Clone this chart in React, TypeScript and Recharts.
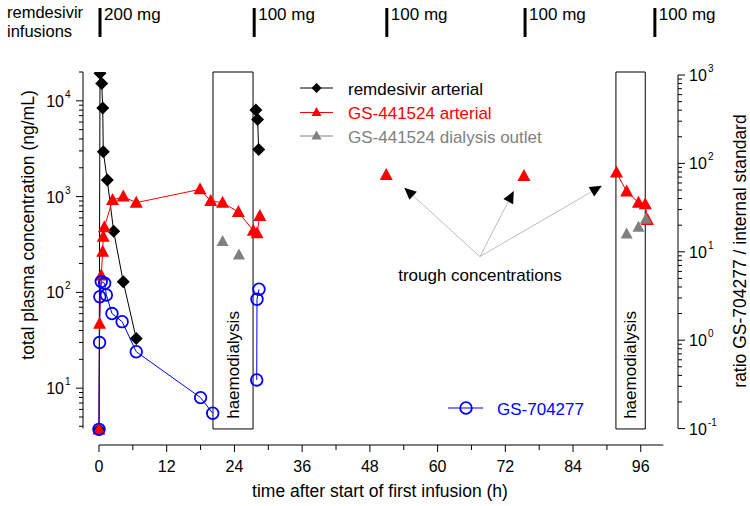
import React from "react";
import {
  LineChart,
  Line,
  XAxis,
  YAxis,
  ReferenceLine,
  ReferenceArea,
  ReferenceDot,
  Legend,
} from "recharts";

const FONT = "Arial, 'Liberation Sans', Helvetica, sans-serif";
const FS = 17;

// ---- data (time in h, concentrations in ng/mL; null = break in line) ----
const remdesivirTimes = [0, 0.18, 0.48, 0.66, 0.76, 1.47, 2.6, 4.3, 6.6, 17, 27.8, 28.1, 28.3];
const remdesivirValues = [3.7, 19400, 15200, 8400, 2940, 1490, 435, 129, 33, null, 8000, 6400, 3100];

const gs441524Times = [0, 0.1, 0.4, 0.65, 0.75, 0.95, 2.4, 4.3, 6.6, 17.9, 19.8, 21.9, 24.7, 27.35, 28.0, 28.5, 40, 50.9, 63, 75.3, 85, 91.7, 93.5, 95.6, 96.8, 97.2];
const gs441524Values = [3.7, 47, 150, 265, 380, 480, 920, 1000, 865, 1190, 900, 865, 690, 440, 414, 628, null, 1680, null, 1640, null, 1780, 1130, 865, 830, 570];

const dialysisOutletTimes = [21.9, 24.8, 60, 93.5, 95.6, 96.9];
const dialysisOutletValues = [339, 246, null, 407, 478, 580];

// GS-704277 ratio to internal standard (right axis)
const gs704277Times = [0, 0.1, 0.15, 0.4, 1.0, 1.3, 2.3, 4.1, 6.6, 18.0, 20.15, 24, 27.95, 28.0, 28.35];
const gs704277Values = [0.098, 0.94, 3.1, 4.6, 4.4, 3.25, 2.0, 1.62, 0.74, 0.224, 0.149, null, 0.355, 2.9, 3.77];

// haemodialysis periods (h)
const dialysisStarts = [20.2, 91.6];
const dialysisEnds = [27.3, 96.8];

// remdesivir infusions
const infusionTimes = [0.18, 27.5, 51.0, 75.5, 98.5];
const infusionDoses = ["200 mg", "100 mg", "100 mg", "100 mg", "100 mg"];

// trough annotation arrows
const troughTipTimes = [54.1, 73.5, 89.1];
const troughTipValues = [1240, 1146, 1300];
const troughOrigin = { t: 67.5, v: 236 };
const troughLabel = { t: 67.5, v: 152, text: "trough concentrations" };

// axes
const xDomain: [number, number] = [-2.835, 102.6];
const xTicks = [0, 6, 12, 18, 24, 30, 36, 42, 48, 54, 60, 66, 72, 78, 84, 90, 96];
const leftDomain: [number, number] = [2.55, 20000];
const leftTicks = [4, 5, 6, 7, 8, 9, 10, 20, 30, 40, 50, 60, 70, 80, 90, 100, 200, 300, 400, 500, 600, 700, 800, 900, 1000, 2000, 3000, 4000, 5000, 6000, 7000, 8000, 9000, 10000, 20000];
const rightDomain: [number, number] = [0.0652, 1081];
const rightTicks = [0.1, 0.2, 0.3, 0.4, 0.5, 0.6, 0.7, 0.8, 0.9, 1, 2, 3, 4, 5, 6, 7, 8, 9, 10, 20, 30, 40, 50, 60, 70, 80, 90, 100, 200, 300, 400, 500, 600, 700, 800, 900, 1000];

const BLACK = "#000000";
const RED = "#ff0000";
const GRAY = "#808080";
const BLUE = "#0000ff";

const toSeries = (ts: number[], vs: (number | null)[]) => ts.map((t, i) => ({ t, v: vs[i] }));

const remdesivirData = toSeries(remdesivirTimes, remdesivirValues);
const gs441524Data = toSeries(gs441524Times, gs441524Values);
const outletData = toSeries(dialysisOutletTimes, dialysisOutletValues);
const gs704277Data = toSeries(gs704277Times, gs704277Values);

const isPow10 = (v: number) => Math.abs(Math.log10(v) - Math.round(Math.log10(v))) < 1e-9;

// ---- markers ----
const ok = (p: any) => p && p.cx != null && p.cy != null && p.value != null && !Number.isNaN(p.cy);

const Diamond = (p: any) => {
  if (!ok(p)) return <g key={p.index} />;
  const { cx, cy } = p;
  const h = 6.5;
  return <polygon key={p.index} points={`${cx},${cy - h} ${cx + h},${cy} ${cx},${cy + h} ${cx - h},${cy}`} fill={BLACK} />;
};
const RedTri = (p: any) => {
  if (!ok(p)) return <g key={p.index} />;
  const { cx, cy } = p;
  return <polygon key={p.index} points={`${cx},${cy - 7} ${cx + 6.5},${cy + 5} ${cx - 6.5},${cy + 5}`} fill={RED} />;
};
const GrayTri = (p: any) => {
  if (!ok(p)) return <g key={p.index} />;
  const { cx, cy } = p;
  return <polygon key={p.index} points={`${cx},${cy - 6.5} ${cx + 6},${cy + 4.5} ${cx - 6},${cy + 4.5}`} fill={GRAY} />;
};
const BlueCircle = (p: any) => {
  if (!ok(p)) return <g key={p.index} />;
  return <circle key={p.index} cx={p.cx} cy={p.cy} r={5.8} fill="none" stroke={BLUE} strokeWidth={1.8} />;
};

// ---- ticks ----
const expText = (v: number) => String(Math.round(Math.log10(v)));

const LeftTick = (p: any) => {
  const { x, y, payload } = p;
  const v = payload.value;
  const major = isPow10(v);
  return (
    <g>
      <line x1={x - (major ? 7 : 4)} x2={x} y1={y} y2={y} stroke="#000" strokeWidth={1} />
      {major && (
        <text x={x - 19} y={y + 6} textAnchor="end" fontSize={16} fontFamily={FONT} fill="#000">10</text>
      )}
      {major && (
        <text x={x - 18} y={y - 3} fontSize={10} fontFamily={FONT} fill="#000">{expText(v)}</text>
      )}
    </g>
  );
};

const RightTick = (p: any) => {
  const { x, y, payload } = p;
  const v = payload.value;
  const major = isPow10(v);
  return (
    <g>
      <line x1={x} x2={x + (major ? 7 : 4)} y1={y} y2={y} stroke="#000" strokeWidth={1} />
      {major && (
        <text x={x + 11} y={y + 6} fontSize={16} fontFamily={FONT} fill="#000">10</text>
      )}
      {major && (
        <text x={x + 30} y={y - 3} fontSize={10} fontFamily={FONT} fill="#000">{expText(v)}</text>
      )}
    </g>
  );
};

const BottomTick = (p: any) => {
  const { x, y, payload } = p;
  const v = payload.value;
  const major = v % 12 === 0;
  return (
    <g>
      <line x1={x} x2={x} y1={y} y2={y + (major ? 7 : 5)} stroke="#000" strokeWidth={1} />
      {major && (
        <text x={x} y={y + 27} textAnchor="middle" fontSize={16} fontFamily={FONT} fill="#000">{v}</text>
      )}
    </g>
  );
};

// ---- annotation shapes ----
const Arrow = (p: any) => {
  const { x1, y1, x2, y2 } = p;
  const ang = Math.atan2(y2 - y1, x2 - x1);
  const L = 12;
  const Wd = 5.5;
  const bx = x2 - L * Math.cos(ang);
  const by = y2 - L * Math.sin(ang);
  const px = -Math.sin(ang) * Wd;
  const py = Math.cos(ang) * Wd;
  return (
    <g>
      <line x1={x1} y1={y1} x2={bx} y2={by} stroke="#bdbdbd" strokeWidth={1} />
      <polygon points={`${x2},${y2} ${bx + px},${by + py} ${bx - px},${by - py}`} fill="#000" />
    </g>
  );
};

const makeInfusion = (dose: string) => (p: any) => {
  const { x1, y1, x2, y2 } = p;
  const top = Math.min(y1, y2);
  return (
    <g>
      <line x1={x1} y1={y1} x2={x2} y2={y2} stroke="#000" strokeWidth={3} />
      <text x={x1 + 4} y={top + 12} fontSize={FS} fontFamily={FONT} fill="#000">{dose}</text>
    </g>
  );
};

const HaemoLabel = (p: any) => {
  const vb = p.viewBox || {};
  const cx = vb.x + vb.width / 2;
  const cy = vb.y + vb.height - 64;
  return (
    <text
      x={cx}
      y={cy}
      textAnchor="middle"
      dominantBaseline="central"
      transform={`rotate(-90 ${cx} ${cy})`}
      fontSize={FS}
      fontFamily={FONT}
      fill="#000"
    >
      haemodialysis
    </text>
  );
};

const TroughText = (p: any) => (
  <text x={p.cx} y={p.cy + 6} textAnchor="middle" fontSize={FS} fontFamily={FONT} fill="#000">
    {troughLabel.text}
  </text>
);

// ---- legend + free texts ----
const legendRows = [
  { label: "remdesivir arterial", color: BLACK, marker: "diamond", y: 88 },
  { label: "GS-441524 arterial", color: RED, marker: "triangle", y: 112.5 },
  { label: "GS-441524 dialysis outlet", color: GRAY, marker: "triangle", y: 136 },
];

const LegendMarker = ({ kind, x, y, color }: any) => {
  if (kind === "diamond")
    return <polygon points={`${x},${y - 5} ${x + 5},${y} ${x},${y + 5} ${x - 5},${y}`} fill={color} />;
  if (kind === "triangle")
    return <polygon points={`${x},${y - 5.5} ${x + 5},${y + 3.5} ${x - 5},${y + 3.5}`} fill={color} />;
  return <circle cx={x} cy={y} r={5.8} fill="none" stroke={color} strokeWidth={1.8} />;
};

const LegendContent = () => (
  <svg width={750} height={506} style={{ position: "absolute", left: 0, top: 0, overflow: "visible" }}>
    {legendRows.map((r) => (
      <g key={r.label}>
        <line x1={300} x2={333} y1={r.y} y2={r.y} stroke={r.color} strokeWidth={1} />
        <LegendMarker kind={r.marker} x={316.5} y={r.y} color={r.color} />
        <text x={348} y={r.y + 6.5} fontSize={FS} fontFamily={FONT} fill={r.color}>{r.label}</text>
      </g>
    ))}
    <g>
      <line x1={448} x2={483} y1={408} y2={408} stroke={BLUE} strokeWidth={1} />
      <LegendMarker kind="circle" x={466} y={408} color={BLUE} />
      <text x={497} y={414.5} fontSize={FS} fontFamily={FONT} fill={BLUE}>GS-704277</text>
    </g>
    <text x={7} y={18} fontSize={16.5} fontFamily={FONT} fill="#000">remdesivir</text>
    <text x={7} y={37} fontSize={16.5} fontFamily={FONT} fill="#000">infusions</text>
    <text
      x={28}
      y={225}
      textAnchor="middle"
      dominantBaseline="central"
      transform="rotate(-90 28 225)"
      fontSize={17.5}
      fontFamily={FONT}
      fill="#000"
    >
      total plasma concentration (ng/mL)
    </text>
    <text
      x={740}
      y={251}
      textAnchor="middle"
      dominantBaseline="central"
      transform="rotate(-90 740 251)"
      fontSize={17.5}
      fontFamily={FONT}
      fill="#000"
    >
      ratio GS-704277 / internal standard
    </text>
    <text x={380} y={497} textAnchor="middle" fontSize={17.5} fontFamily={FONT} fill="#000">
      time after start of first infusion (h)
    </text>
  </svg>
);

export default function App() {
  return (
    <div style={{ position: "absolute", left: 0, top: 0, width: 750, height: 506, background: "#fff" }}>
      <LineChart width={750} height={506} margin={{ top: 72, right: 0, bottom: 0, left: 0 }}>
        <XAxis
          dataKey="t"
          type="number"
          domain={xDomain}
          allowDataOverflow
          ticks={xTicks}
          interval={0}
          height={61}
          axisLine={false}
          tickLine={false}
          tickSize={0}
          tickMargin={0}
          tick={<BottomTick />}
        />
        <YAxis
          yAxisId="left"
          orientation="left"
          type="number"
          scale="log"
          domain={leftDomain}
          allowDataOverflow
          ticks={leftTicks}
          interval={0}
          width={83}
          axisLine={false}
          tickLine={false}
          tickSize={0}
          tickMargin={0}
          tick={<LeftTick />}
        />
        <YAxis
          yAxisId="right"
          orientation="right"
          type="number"
          scale="log"
          domain={rightDomain}
          allowDataOverflow
          ticks={rightTicks}
          interval={0}
          width={72}
          axisLine={false}
          tickLine={false}
          tickSize={0}
          tickMargin={0}
          tick={<RightTick />}
        />

        {/* axis lines (offset style) */}
        <ReferenceLine
          yAxisId="left"
          segment={[{ x: xDomain[0], y: 3.8 }, { x: xDomain[0], y: leftDomain[1] }]}
          stroke="#000"
          strokeWidth={1}
          ifOverflow="visible"
        />
        <ReferenceLine
          yAxisId="right"
          segment={[{ x: xDomain[1], y: 0.1 }, { x: xDomain[1], y: 1000 }]}
          stroke="#000"
          strokeWidth={1}
          ifOverflow="visible"
        />
        <ReferenceLine
          yAxisId="left"
          segment={[{ x: 0, y: leftDomain[0] }, { x: 100, y: leftDomain[0] }]}
          stroke="#000"
          strokeWidth={1.2}
          ifOverflow="visible"
        />

        {/* haemodialysis boxes */}
        {dialysisStarts.map((s, i) => (
          <ReferenceArea
            key={`hd${i}`}
            yAxisId="left"
            x1={s}
            x2={dialysisEnds[i]}
            y1={3.75}
            y2={leftDomain[1]}
            fill="none"
            fillOpacity={0}
            stroke="#000"
            strokeWidth={1}
            ifOverflow="visible"
            label={HaemoLabel}
          />
        ))}

        {/* infusion markers above plot */}
        {infusionTimes.map((t, i) => (
          <ReferenceLine
            key={`inf${i}`}
            yAxisId="left"
            segment={[{ x: t, y: 46400 }, { x: t, y: 93100 }]}
            ifOverflow="visible"
            shape={makeInfusion(infusionDoses[i])}
          />
        ))}

        {/* trough arrows */}
        {troughTipTimes.map((t, i) => (
          <ReferenceLine
            key={`arr${i}`}
            yAxisId="left"
            segment={[{ x: troughOrigin.t, y: troughOrigin.v }, { x: t, y: troughTipValues[i] }]}
            ifOverflow="visible"
            shape={Arrow}
          />
        ))}
        <ReferenceDot
          yAxisId="left"
          x={troughLabel.t}
          y={troughLabel.v}
          r={0}
          ifOverflow="visible"
          shape={TroughText}
        />

        <Line
          yAxisId="left"
          data={remdesivirData}
          dataKey="v"
          stroke={BLACK}
          strokeWidth={1}
          dot={Diamond}
          activeDot={false}
          isAnimationActive={false}
          connectNulls={false}
        />
        <Line
          yAxisId="left"
          data={gs441524Data}
          dataKey="v"
          stroke={RED}
          strokeWidth={1}
          dot={RedTri}
          activeDot={false}
          isAnimationActive={false}
          connectNulls={false}
        />
        <Line
          yAxisId="left"
          data={outletData}
          dataKey="v"
          stroke="none"
          dot={GrayTri}
          activeDot={false}
          isAnimationActive={false}
          connectNulls={false}
        />
        <Line
          yAxisId="right"
          data={gs704277Data}
          dataKey="v"
          stroke={BLUE}
          strokeWidth={1}
          dot={BlueCircle}
          activeDot={false}
          isAnimationActive={false}
          connectNulls={false}
        />

        <Legend
          content={LegendContent}
          layout="horizontal"
          verticalAlign="middle"
          align="center"
          wrapperStyle={{ left: 0, top: 0, width: 750, height: 506, pointerEvents: "none" }}
        />
      </LineChart>
    </div>
  );
}
